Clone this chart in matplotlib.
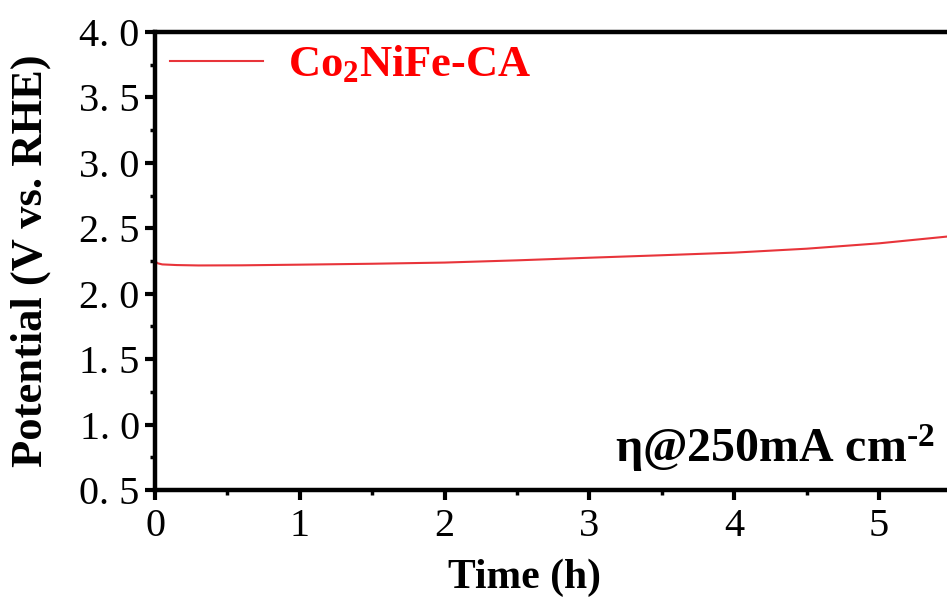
import matplotlib
matplotlib.use("Agg")
import matplotlib.pyplot as plt
from matplotlib.ticker import AutoMinorLocator

plt.rcParams["font.family"] = ["Liberation Serif", "DejaVu Serif"]
plt.rcParams["mathtext.fontset"] = "custom"
plt.rcParams["mathtext.rm"] = "Liberation Serif:bold"
plt.rcParams["mathtext.default"] = "rm"

# time (h) and potential (V vs. RHE)
time_h = [0.0, 0.02, 0.05, 0.15, 0.3, 0.6, 1.0, 1.5, 2.0, 2.5, 3.0, 3.5, 4.0, 4.5, 5.0, 5.5]
potential = [2.248, 2.232, 2.224, 2.219, 2.216, 2.217, 2.222, 2.229, 2.238, 2.255, 2.275,
             2.294, 2.314, 2.344, 2.385, 2.44]
yticks = [0.5, 1.0, 1.5, 2.0, 2.5, 3.0, 3.5, 4.0]
ytick_labels = ["0. 5", "1. 0", "1. 5", "2. 0", "2. 5", "3. 0", "3. 5", "4. 0"]
xticks = [0, 1, 2, 3, 4, 5]

W, H = 947, 610
fig = plt.figure(figsize=(W / 100, H / 100), dpi=100)
ax_w = 6 * 144.8
ax_h = 458
ax = fig.add_axes([155 / W, 120 / H, ax_w / W, ax_h / H])

ax.plot(time_h, potential, color="#e8343a", lw=1.5, label="Co$_2$NiFe-CA")

ax.set_xlim(0, 6)
ax.set_ylim(0.5, 4.0)
ax.set_xticks(xticks)
ax.set_yticks(yticks)
ax.set_yticklabels(ytick_labels)
ax.xaxis.set_minor_locator(AutoMinorLocator(2))
ax.yaxis.set_minor_locator(AutoMinorLocator(2))

for side in ["left", "bottom", "top"]:
    ax.spines[side].set_linewidth(3.2)
ax.spines["right"].set_visible(False)

ax.tick_params(which="major", direction="out", length=7, width=3, labelsize=29, pad=4,
               top=False, right=False)
ax.tick_params(which="minor", direction="out", length=3.5, width=2.5, top=False, right=False)
ax.tick_params(axis="x", which="major", pad=6)

ax.set_xlabel("Time (h)", fontsize=30, fontweight="bold")
ax.set_ylabel("Potential (V vs. RHE)", fontsize=32, fontweight="bold")
ax.xaxis.set_label_coords((525 - 155) / ax_w, -(578 - 490) / ax_h)
ax.yaxis.set_label_coords(-(155 - 31) / ax_w, 0.5)
ax.xaxis.label.set_va("center")
ax.yaxis.label.set_va("center")

leg = ax.legend(loc="center left", bbox_to_anchor=((170 - 155) / ax_w, 1 - 33 / ax_h),
                frameon=False, fontsize=32, handlelength=2.1, handletextpad=0.55,
                borderpad=0, borderaxespad=0)
for t in leg.get_texts():
    t.set_color("#ff0000")
    t.set_fontweight("bold")

fig.text(935 / W, (H - 462) / H, r"η@250mA cm$^{\text{-}2}$", ha="right", va="baseline",
         fontsize=34.5, fontweight="bold")

fig.savefig("out.png", dpi=100)
plt.close(fig)
